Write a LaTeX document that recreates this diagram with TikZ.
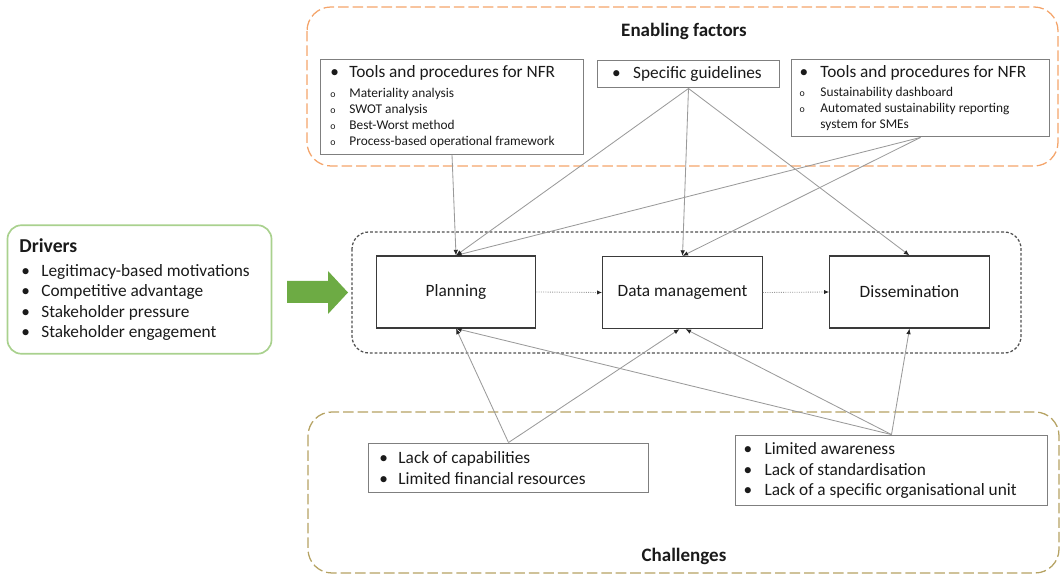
\documentclass[tikz,border=0pt]{standalone}
\usepackage{fontspec}
\setmainfont{Carlito}
\usetikzlibrary{arrows.meta,calc}
\definecolor{orangeD}{HTML}{F4A46A}
\definecolor{oliveD}{HTML}{B5A262}
\definecolor{greenB}{HTML}{A9D18E}
\definecolor{greenA}{HTML}{6DAB44}
\definecolor{boxgray}{HTML}{7F7F7F}
\definecolor{procgray}{HTML}{3A3A3A}
\definecolor{conngray}{HTML}{9A9A9A}
\definecolor{procdash}{HTML}{505050}
\definecolor{txt}{HTML}{1A1A1A}
\newcommand\bl[2]{\makebox[#1][l]{\textbullet}#2}
\newcommand\sbl[2]{\makebox[#1][l]{\fontsize{7}{8}\selectfont o}#2}
\tikzset{
  subbox/.style={draw=boxgray, line width=0.8pt, align=flush left, inner ysep=0pt, text=txt,
    font=\fontsize{12.3}{14.5}\selectfont},
  toolbox/.style={subbox, font=\fontsize{9.5}{11.6}\selectfont},
  procbox/.style={draw=procgray, line width=1pt, minimum width=113.4pt, minimum height=51pt,
    inner sep=0pt, text=txt, font=\fontsize{12.3}{14.5}\selectfont},
  conn/.style={draw=conngray, line width=0.6pt, -{Latex[length=4pt,width=3.2pt,color=black!85]}},
  flow/.style={draw=conngray, densely dotted, line width=0.6pt, -{Latex[length=3.5pt,width=3pt,color=black!85]}},
  titlenode/.style={font=\bfseries\fontsize{13.5}{15}\selectfont, text=txt, inner sep=0pt},
}
\begin{document}
\begin{tikzpicture}[x=0.025cm, y=-0.025cm]
\useasboundingbox (0,0) rectangle (1060,576);
% containers
\draw[orangeD, line width=0.9pt, dash pattern=on 7.5pt off 2.8pt, rounded corners=17pt] (307,7) rectangle (1058,166);
\draw[oliveD, line width=0.9pt, dash pattern=on 7.5pt off 2.8pt, rounded corners=17pt] (308,412) rectangle (1059,573);
\draw[procdash, line width=0.9pt, dash pattern=on 2pt off 1.4pt, rounded corners=12pt] (352,232) rectangle (1021,353);
\node[titlenode] (enab) at (684,31) {Enabling factors};
\node[titlenode] (chal) at (684,556) {Challenges};
% enabling factor boxes
\node[toolbox, minimum width=187.1pt, minimum height=67.3pt, inner xsep=7.1pt, text width=172.9pt] (b1) at (452,107)
 {{\fontsize{12.3}{14.5}\selectfont\bl{13.5pt}{Tools and procedures for NFR}}\\[2pt]
  \sbl{13.5pt}{Materiality analysis}\\
  \sbl{13.5pt}{SWOT analysis}\\
  \sbl{13.5pt}{Best-Worst method}\\
  \sbl{13.5pt}{Process-based operational framework}};
\node[subbox, minimum width=129.7pt, minimum height=19.8pt, inner xsep=10.6pt, text width=108.5pt] (b2) at (688.5,74)
 {\bl{14.9pt}{Specific guidelines}};
\node[toolbox, minimum width=183.5pt, minimum height=55.3pt, inner xsep=5.7pt, text width=172.1pt] (b3) at (920.5,98)
 {{\fontsize{12.3}{14.5}\selectfont\bl{14.9pt}{Tools and procedures for NFR}}\\[2pt]
  \sbl{14.9pt}{Sustainability dashboard}\\
  \sbl{14.9pt}{Automated sustainability reporting}\\
  \hspace*{14.9pt}system for SMEs};
% drivers
\node[draw=greenB, line width=1.2pt, rounded corners=10pt, align=flush left, text=txt,
  minimum width=187.8pt, minimum height=91.4pt, inner xsep=8.5pt, inner ysep=0pt, text width=170.8pt,
  font=\fontsize{12.3}{14.5}\selectfont] (drv) at (139.5,289.5)
 {{\bfseries\fontsize{14}{14.5}\selectfont Drivers}\\[2.5pt]
  \hspace*{1.4pt}\bl{14.2pt}{Legitimacy-based motivations}\\
  \hspace*{1.4pt}\bl{14.2pt}{Competitive advantage}\\
  \hspace*{1.4pt}\bl{14.2pt}{Stakeholder pressure}\\
  \hspace*{1.4pt}\bl{14.2pt}{Stakeholder engagement}};
\fill[greenA] (287,281) -- (328,281) -- (328,271) -- (348,292.5) -- (328,314) -- (328,303) -- (287,303) -- cycle;
% process boxes
\node[procbox] (plan) at (456,292) {Planning};
\node[procbox] (dm) at (682.5,292.5) {Data management};
\node[procbox] (dis) at (909.5,292) {Dissemination};
% challenges
\node[subbox, minimum width=199.1pt, minimum height=35.4pt, inner xsep=7.8pt, text width=183.5pt] (c1) at (508.5,468)
 {\bl{13.5pt}{Lack of capabilities}\\
  \bl{13.5pt}{Limited financial resources}};
\node[subbox, minimum width=221.8pt, minimum height=50.3pt, inner xsep=5.7pt, text width=210.4pt] (c2) at (891.5,470.5)
 {\bl{14.9pt}{Limited awareness}\\
  \bl{14.9pt}{Lack of standardisation}\\
  \bl{14.9pt}{Lack of a specific organisational unit}};
% connectors
\draw[conn] (b1.south) -- (plan.north);
\draw[conn] (b2.south) -- (plan.north);
\draw[conn] (b2.south) -- (dm.north);
\draw[conn] (b2.south) -- (dis.north);
\draw[conn] (b3.south) -- (plan.north);
\draw[conn] (b3.south) -- (dm.north);
\draw[conn] (c1.north) -- (plan.south);
\draw[conn] (c1.north) -- ($(dm.south)+(-3,0)$);
\draw[conn] (c2.north) -- (plan.south);
\draw[conn] (c2.north) -- ($(dm.south)+(3,0)$);
\draw[conn] (c2.north) -- (dis.south);
\draw[flow] (plan.east) -- (dm.west);
\draw[flow] (dm.east) -- (dis.west);
\end{tikzpicture}
\end{document}
